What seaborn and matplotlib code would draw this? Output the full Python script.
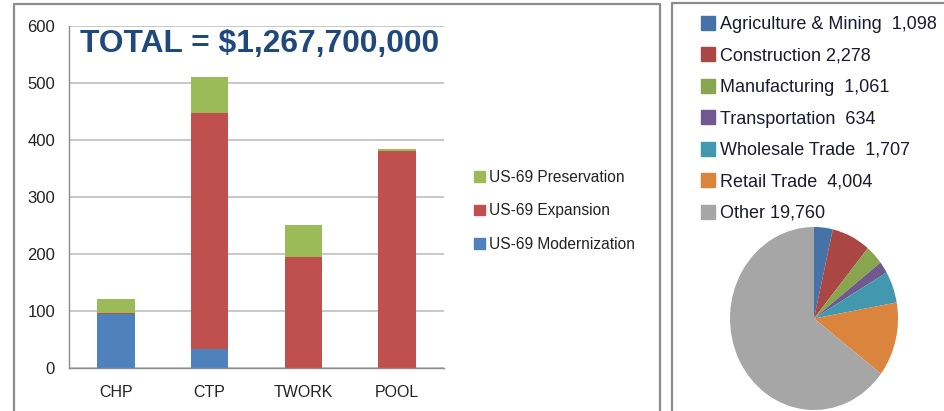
import pandas as pd
import seaborn as sns
import matplotlib.pyplot as plt
from matplotlib.lines import Line2D
from matplotlib.patches import Patch

# ---- data ----
projects = ["CHP", "CTP", "TWORK", "POOL"]
modernization = [94, 33, 0, 0]
expansion = [2.5, 415, 194, 380]
preservation = [24.5, 63, 57, 4]

sectors = ["Agriculture & Mining", "Construction", "Manufacturing", "Transportation",
           "Wholesale Trade", "Retail Trade", "Other"]
sector_labels = ["Agriculture & Mining  1,098", "Construction 2,278", "Manufacturing  1,061",
                 "Transportation  634", "Wholesale Trade  1,707", "Retail Trade  4,004",
                 "Other 19,760"]
jobs = [1098, 2278, 1061, 634, 1707, 4004, 19760]

bar_colors = {"mod": "#4F81BD", "exp": "#C0504D", "pres": "#9BBB59"}
pie_colors = ["#4572A7", "#AA4643", "#89A54E", "#71588F", "#4198AF", "#DB843D", "#A6A6A6"]

sns.set_style("white")
plt.rcParams['font.family'] = ['Liberation Sans', 'DejaVu Sans']

W, H = 945, 411
fig = plt.figure(figsize=(W / 100, H / 100), dpi=100)

def fx(px):
    return px / W

def fy(py):
    return 1 - py / H

# panel borders
for xs, ys in [([14, 14, 660, 660], [H + 5, 4.5, 4.5, H + 5]),
               ([672, 672, W + 5], [H + 5, 3, 3])]:
    fig.add_artist(Line2D([fx(x) for x in xs], [fy(y) for y in ys],
                          color="#8C8C8C", lw=1.6, transform=fig.transFigure))

# ---- stacked bars ----
df = pd.DataFrame({"project": projects, "mod": modernization,
                   "exp": expansion, "pres": preservation})
df["top_exp"] = df["mod"] + df["exp"]
df["top_pres"] = df["top_exp"] + df["pres"]

ax = fig.add_axes([fx(69), fy(368), fx(444) - fx(69), fy(26) - fy(368)])
for col, key in [("top_pres", "pres"), ("top_exp", "exp"), ("mod", "mod")]:
    sns.barplot(data=df, x="project", y=col, color=bar_colors[key], width=0.4,
                saturation=1, ax=ax, zorder=2, linewidth=0, edgecolor="none")

ax.set_ylim(0, 600)
ax.set_xlim(-0.5, 3.5)
ax.set_yticks(range(0, 601, 100))
ax.yaxis.grid(True, color="#BFBFBF", lw=1.2, zorder=0)
ax.set_axisbelow(True)
ax.set_xlabel("")
ax.set_ylabel("")
for s in ["top", "right"]:
    ax.spines[s].set_visible(False)
for s in ["left", "bottom"]:
    ax.spines[s].set_color("#8C8C8C")
    ax.spines[s].set_linewidth(1.0)
ax.set_xticks([-0.5, 0.5, 1.5, 2.5, 3.5], minor=True)
ax.tick_params(axis="x", which="major", length=0, pad=12, labelsize=11.5, labelcolor="#222222")
ax.tick_params(axis="x", which="minor", length=5, color="#8C8C8C", direction="out")
ax.tick_params(axis="y", length=5, color="#8C8C8C", labelsize=12, labelcolor="#222222", pad=5)

fig.text(fx(80), fy(52), "TOTAL = $1,267,700,000", fontsize=22.9, fontweight="bold",
         color="#1F497D", ha="left", va="baseline")

handles = [Patch(color=bar_colors["pres"]), Patch(color=bar_colors["exp"]),
           Patch(color=bar_colors["mod"])]
fig.legend(handles, ["US-69 Preservation", "US-69 Expansion", "US-69 Modernization"],
           loc="upper left", bbox_to_anchor=(fx(466), fy(162)), frameon=False,
           fontsize=11.2, handlelength=0.7, handleheight=0.7, handletextpad=0.25,
           labelspacing=1.2, borderpad=0, labelcolor="#222222")

# ---- pie ----
pax = fig.add_axes([fx(730), fy(410), fx(898) - fx(730), fy(227) - fy(410)])
pax.pie(jobs, colors=pie_colors, startangle=90, counterclock=False,
        wedgeprops=dict(linewidth=0))
pax.set_aspect("auto")
pax.set_xlim(-1, 1)
pax.set_ylim(-1, 1)

pie_handles = [Patch(color=c) for c in pie_colors]
fig.legend(pie_handles, sector_labels, loc="upper left", bbox_to_anchor=(fx(692), fy(7)),
           frameon=False, handlelength=0.75, handleheight=0.8,
           handletextpad=0.3, labelspacing=0.79, borderpad=0, labelcolor="#1a1a2e",
           prop={"family": "Liberation Sans", "size": 13})

fig.savefig("out.png", dpi=100)
